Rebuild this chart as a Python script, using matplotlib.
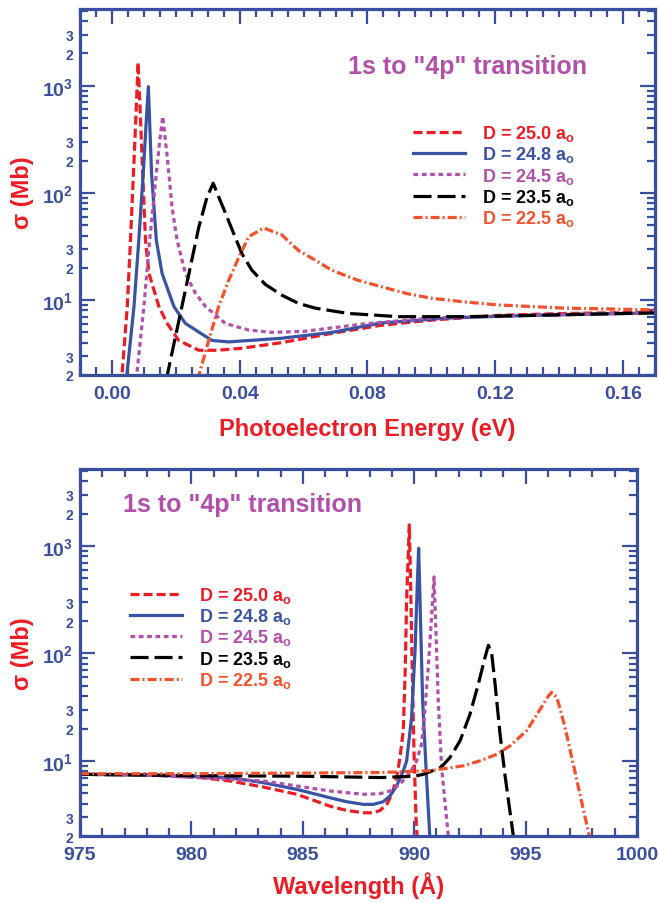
import math
import matplotlib
matplotlib.use('Agg')
import matplotlib.pyplot as plt
from matplotlib.ticker import FixedLocator, FuncFormatter, MultipleLocator

# ---- data (sigma in Mb) ----
labels = [r'D = 25.0 a$_\mathbf{o}$', r'D = 24.8 a$_\mathbf{o}$', r'D = 24.5 a$_\mathbf{o}$',
          r'D = 23.5 a$_\mathbf{o}$', r'D = 22.5 a$_\mathbf{o}$']

# top panel: photoelectron energy (eV)
e250 = [0.0029, 0.0048, 0.0058, 0.0072, 0.0082, 0.0092, 0.0105, 0.0116, 0.0147, 0.0173,
        0.0209, 0.0272, 0.0330, 0.0406, 0.053, 0.069, 0.084, 0.100, 0.121, 0.142, 0.170]
s250 = [1.6, 8.7, 36, 316, 1650, 316, 36, 17.7, 8.7, 6.05,
        4.2, 3.4, 3.4, 3.55, 4.0, 4.9, 5.8, 6.5, 7.2, 7.5, 7.7]
e248 = [0.0045, 0.0069, 0.0084, 0.0098, 0.0107, 0.0114, 0.0124, 0.0139, 0.0157, 0.0194,
        0.023, 0.0313, 0.0366, 0.053, 0.069, 0.084, 0.105, 0.131, 0.170]
s248 = [1.8, 8.7, 36, 152, 447, 980, 152, 36, 17.7, 8.7,
        6.05, 4.2, 4.07, 4.4, 5.0, 6.1, 6.8, 7.2, 7.6]
e245 = [0.0076, 0.0100, 0.0118, 0.0139, 0.0150, 0.0159, 0.0173, 0.0188, 0.0204, 0.0230,
        0.0262, 0.0293, 0.0355, 0.0428, 0.050, 0.060, 0.079, 0.100, 0.130, 0.170]
s245 = [1.8, 8.7, 36, 152, 316, 515, 218, 74, 36, 17.7,
        11.5, 8.7, 6.05, 5.25, 5.0, 5.1, 6.0, 6.8, 7.2, 7.6]
e235 = [0.0170, 0.023, 0.0272, 0.0298, 0.0317, 0.0334, 0.0355, 0.0407, 0.0438, 0.048,
        0.0532, 0.0584, 0.0637, 0.074, 0.0897, 0.1105, 0.133, 0.170]
s235 = [1.8, 12.4, 48, 92, 123, 92, 65, 27, 19, 14,
        11.1, 9.3, 8.4, 7.5, 7.0, 7.0, 7.2, 7.6]
e225 = [0.0268, 0.0303, 0.0334, 0.0366, 0.0397, 0.0428, 0.0475, 0.0532, 0.0584, 0.0637,
        0.0688, 0.0767, 0.0844, 0.0923, 0.100, 0.1105, 0.121, 0.142, 0.170]
s225 = [1.8, 4.2, 8.7, 15.4, 25, 39, 47, 40.5, 29, 23.5,
        19, 15.4, 13.3, 11.5, 10.4, 9.6, 9.0, 8.4, 8.1]

# bottom panel: wavelength (Angstrom)
l250 = [975, 978, 980.4, 981.73, 983.23, 984.73, 986.22, 986.97, 987.72, 988.17,
        988.47, 988.77, 989.0, 989.21, 989.36, 989.51, 989.6, 989.66, 989.78, 989.84,
        989.91, 989.99, 990.08, 990.15]
t250 = [7.5, 7.4, 7.0, 6.5, 5.71, 4.89, 3.79, 3.46, 3.29, 3.29,
        3.46, 3.94, 4.89, 6.98, 10.7, 19.1, 74, 316, 1570, 447,
        74, 12.4, 2.94, 1.7]
l248 = [975, 978, 981.73, 983.23, 984.73, 986.22, 986.97, 987.72, 988.17, 988.61,
        988.91, 989.21, 989.51, 989.66, 989.88, 990.04, 990.14, 990.2, 990.26, 990.38,
        990.53, 990.7, 990.75]
t248 = [7.5, 7.4, 6.98, 6.27, 5.43, 4.54, 4.17, 3.94, 3.94, 4.17,
        4.71, 5.84, 8.07, 10, 25, 107, 447, 950, 316, 36,
        8.7, 2.0, 1.7]
l245 = [975, 978, 981.73, 983.23, 984.73, 986.22, 987.72, 988.47, 988.91, 989.36,
        989.81, 990.11, 990.33, 990.45, 990.63, 990.78, 990.89, 990.98, 991.08, 991.23,
        991.53, 991.58]
t245 = [7.5, 7.4, 6.74, 6.5, 5.84, 5.25, 4.89, 4.95, 5.25, 6.05,
        7.78, 10, 14.3, 25, 74, 218, 515, 152, 36, 8.7,
        2.0, 1.8]
l235 = [975, 980, 985, 988.5, 990, 990.41, 991.2, 991.6, 992.06, 992.5,
        992.88, 993.18, 993.33, 993.48, 993.63, 993.85, 994.07, 994.45, 994.5]
t235 = [7.5, 7.3, 7.2, 7.0, 7.2, 7.5, 8.7, 10.7, 15.4, 27,
        52, 92, 119, 99, 52, 18, 7.5, 2.0, 1.8]
l225 = [975, 980, 985, 988.5, 990.7, 992.2, 992.95, 993.7, 994.3, 995.05,
        995.8, 996.02, 996.17, 996.4, 996.62, 996.84, 997.14, 997.44, 997.86, 997.95]
t225 = [7.6, 7.6, 7.7, 7.8, 8.1, 9.0, 10, 11.5, 13.8, 19.1,
        33.8, 40, 43.5, 39, 27, 17.7, 9.3, 4.9, 2.0, 1.7]

BLUE = '#3a4e9f'
RED = '#ec1c24'
PURPLE = '#b24fab'
colors = [RED, '#3953a4', PURPLE, 'black', '#f2512a']
dashes = [(6.5, 2.9), None, (3.4, 2.6), (13, 4.3), (6.5, 2.2, 1.4, 2.2)]

plt.rcParams['font.family'] = ['Liberation Sans', 'DejaVu Sans']
plt.rcParams['font.weight'] = 'bold'
plt.rcParams['axes.labelweight'] = 'bold'
plt.rcParams['mathtext.fontset'] = 'custom'
plt.rcParams['mathtext.rm'] = 'Liberation Sans:bold'
plt.rcParams['mathtext.bf'] = 'Liberation Sans:bold'
plt.rcParams['mathtext.it'] = 'Liberation Sans:bold'
plt.rcParams['lines.scale_dashes'] = False

fig = plt.figure(figsize=(6.59, 9.04), dpi=100)
ax1 = fig.add_axes([0.1214, 0.5841, 0.8725, 0.4049])
ax2 = fig.add_axes([0.1214, 0.0741, 0.8452, 0.4060])


def minor_fmt(v, pos):
    m = round(v / 10 ** math.floor(math.log10(v) + 1e-9))
    return '%d' % m if m in (2, 3) else ''


def style(ax):
    ax.set_yscale('log')
    ax.set_ylim(2, 5200)
    for s in ax.spines.values():
        s.set_color(BLUE)
        s.set_linewidth(2.3)
    ax.yaxis.set_major_locator(FixedLocator([10, 100, 1000]))
    ax.yaxis.set_major_formatter(FuncFormatter(
        lambda v, p: r'$\mathbf{10^{%d}}$' % round(math.log10(v))))
    minors = [m * 10 ** k for k in range(0, 4) for m in range(2, 10)]
    ax.yaxis.set_minor_locator(FixedLocator(minors))
    ax.yaxis.set_minor_formatter(FuncFormatter(minor_fmt))
    ax.tick_params(which='both', direction='in', top=True, right=True,
                   colors=BLUE, width=1.6)
    ax.tick_params(which='major', length=11, labelsize=14)
    ax.tick_params(which='minor', length=6, labelsize=10)
    ax.tick_params(axis='x', which='both', pad=7)
    ax.tick_params(axis='y', which='both', pad=5)
    ax.set_ylabel(u'\u03c3 (Mb)', color=RED, fontsize=17, labelpad=6)


top = [(e250, s250), (e248, s248), (e245, s245), (e235, s235), (e225, s225)]
bot = [(l250, t250), (l248, t248), (l245, t245), (l235, t235), (l225, t225)]

for ax, series in ((ax1, top), (ax2, bot)):
    for (x, y), c, d, lab in zip(series, colors, dashes, labels):
        line, = ax.plot(x, y, color=c, lw=2.3, label=lab)
        if d is not None:
            line.set_dashes(d)
    style(ax)

ax1.set_xlim(-0.01, 0.17)
ax1.xaxis.set_major_locator(MultipleLocator(0.04))
ax1.xaxis.set_minor_locator(MultipleLocator(0.005))
ax1.xaxis.set_major_formatter(FuncFormatter(lambda v, p: '%.2f' % v))
ax1.set_xlabel('Photoelectron Energy (eV)', color=RED, fontsize=17, labelpad=11)

ax2.set_xlim(975, 1000)
ax2.xaxis.set_major_locator(MultipleLocator(5))
ax2.xaxis.set_minor_locator(MultipleLocator(1))
ax2.set_xlabel(u'Wavelength (\u00c5)', color=RED, fontsize=17, labelpad=6)

ax1.text(0.466, 0.844, '1s to "4p" transition', transform=ax1.transAxes,
         color=PURPLE, fontsize=18, va='center', ha='left')
ax2.text(0.077, 0.905, '1s to "4p" transition', transform=ax2.transAxes,
         color=PURPLE, fontsize=18, va='center', ha='left')

for ax, anchor in ((ax1, (0.579, 0.688)), (ax2, (0.0898, 0.684))):
    ax.legend(loc='upper left', bbox_to_anchor=anchor, frameon=False, fontsize=13,
              handlelength=2.9, handletextpad=0.9, labelspacing=0.07,
              borderpad=0, borderaxespad=0, labelcolor='linecolor')

fig.savefig('out.png', dpi=100)
